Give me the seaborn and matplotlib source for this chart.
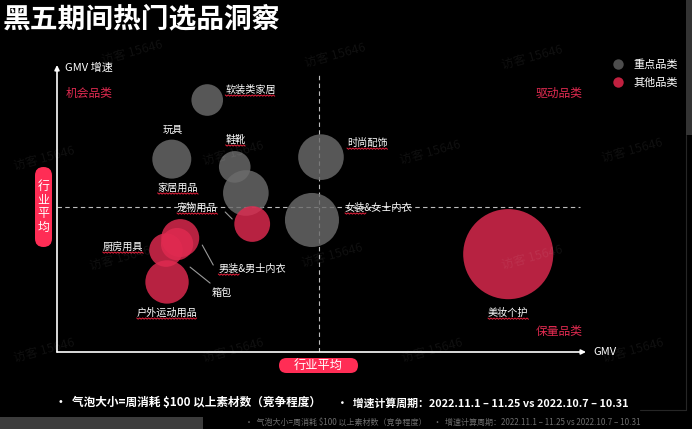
import numpy as np
import pandas as pd
import matplotlib.pyplot as plt
import seaborn as sns
from matplotlib.lines import Line2D
from matplotlib.patches import Rectangle, FancyBboxPatch
from matplotlib.transforms import IdentityTransform

# bubble data (GMV index / growth index, bubble = materials with spend > $100 per week)
categories = ['软装类家居', '玩具', '鞋靴', '时尚配饰', '家居用品', '女装&女士内衣',
              '宠物用品', '男装&男士内衣', '箱包', '厨房用具', '户外运动用品', '美妆个护']
groups = ['重点品类'] * 6 + ['其他品类'] * 6
gmv = [28.4, 21.7, 33.6, 49.9, 35.7, 48.2, 36.9, 23.3, 22.7, 20.6, 20.8, 85.3]
growth = [87.8, 67.2, 64.5, 67.9, 55.4, 46.0, 44.6, 39.7, 37.6, 35.5, 24.4, 34.1]
materials = [250, 380, 250, 520, 520, 730, 320, 360, 260, 280, 470, 2030]
avg_gmv = 49.5
avg_growth = 50.5

title = '黑五期间热门选品洞察'
notes = ['•  气泡大小=周消耗 $100 以上素材数（竞争程度）',
         '•  增速计算周期：2022.11.1 – 11.25 vs 2022.10.7 – 10.31']

df = pd.DataFrame({'category': categories, 'group': groups, 'gmv': gmv,
                   'growth': growth, 'materials': materials})

sns.set_theme(style='dark')
plt.rcParams['font.family'] = ['Noto Sans CJK SC', 'DejaVu Sans']

RED = '#e02a50'
PINK = '#ff2d55'
GRAY = '#6b6b6b'

W, H = 692, 429
fig = plt.figure(figsize=(W / 100, H / 100), dpi=100, facecolor='black')


def fx(p):
    return p / W


def fy(p):
    return 1 - p / H


ax = fig.add_axes([fx(57), fy(352), (586 - 57) / W, (352 - 65) / H])
ax.set_facecolor('black')

sns.scatterplot(data=df, x='gmv', y='growth', hue='group', size='materials',
                palette={'重点品类': GRAY, '其他品类': RED},
                sizes=(0, 2.0736 * 2030), size_norm=(0, 2030),
                alpha=0.82, linewidth=0, legend=False, ax=ax, zorder=3, clip_on=False)
ax.set_xlim(0, 100)
ax.set_ylim(0, 100)
ax.axis('off')

# average lines
ax.axhline(avg_growth, xmin=0, xmax=0.989, color='#bdbdbd', lw=0.8, ls=(0, (4, 3)), zorder=2)
ax.axvline(avg_gmv, ymin=0, ymax=0.965, color='#bdbdbd', lw=0.8, ls=(0, (4, 3)), zorder=2)

# axes arrows
arrow = dict(arrowstyle='-|>', color='white', lw=1.2, mutation_scale=7, shrinkA=0, shrinkB=0)
ax.annotate('', xy=(1, 0), xytext=(0, 0), xycoords='axes fraction', arrowprops=arrow,
            annotation_clip=False)
ax.annotate('', xy=(0, 1), xytext=(0, 0), xycoords='axes fraction', arrowprops=arrow,
            annotation_clip=False)

# bubble labels: offset in pixels from bubble centre, alignment, underlined share
label_layout = {
    '软装类家居': (18, 10, 'left', 1.0),
    '玩具': (1, 29, 'center', 0),
    '鞋靴': (1, 27, 'center', 1.0),
    '时尚配饰': (26, 14, 'left', 1.0),
    '家居用品': (-68, 5, 'center', 1.0),
    '女装&女士内衣': (33, 12, 'left', 0.31),
    '宠物用品': (-55, 16, 'center', 1.0),
    '男装&男士内衣': (38, -31, 'left', 0.31),
    '箱包': (35, -49, 'left', 0),
    '厨房用具': (-43, 3, 'center', 1.0),
    '户外运动用品': (0, -31, 'center', 1.0),
    '美妆个护': (0, -59, 'center', 1.0),
}
label_texts = []
for _, row in df.iterrows():
    dx, dy, ha, ul = label_layout[row['category']]
    t = ax.annotate(row['category'], xy=(row['gmv'], row['growth']), xytext=(dx, dy),
                    textcoords='offset pixels', ha=ha, va='center', color='white',
                    fontsize=7.3, zorder=5, annotation_clip=False)
    label_texts.append((t, ul))

# leader lines (pixel offsets from bubble centre)
leaders = {
    '宠物用品': ((-27, 12), (-20, 5)),
    '男装&男士内衣': ((33, -27), (22, -7)),
    '箱包': ((33, -39), (13, -23)),
}
for name, (a, b) in leaders.items():
    row = df[df['category'] == name].iloc[0]
    X, Y = ax.transData.transform((row['gmv'], row['growth']))
    fig.add_artist(Line2D([X + a[0], X + b[0]], [Y + a[1], Y + b[1]],
                          transform=IdentityTransform(), color='#9a9a9a', lw=0.8))

# title and axis texts
fig.text(fx(3), fy(19), title, color='white', fontsize=20, fontweight='bold', va='center')
fig.text(fx(65), fy(68), 'GMV 增速', color='white', fontsize=8, va='center')
fig.text(fx(593), fy(352), 'GMV', color='white', fontsize=8, va='center')

quad = dict(color=RED, fontsize=8.5, va='center')
fig.text(fx(66), fy(93), '机会品类', ha='left', **quad)
fig.text(fx(583), fy(93), '驱动品类', ha='right', **quad)
fig.text(fx(583), fy(332), '保量品类', ha='right', **quad)

# "行业平均" pills (pixel boxes)
for x0, top, w, h in [(35, 167, 17, 80), (279, 358, 79, 15)]:
    fig.add_artist(FancyBboxPatch((x0, H - top - h), w, h, transform=IdentityTransform(),
                                  boxstyle='round,pad=0,rounding_size=%g' % (min(w, h) / 2),
                                  fc=PINK, ec='none'))
fig.text(fx(43.5), fy(207), '行\n业\n平\n均', color='white', fontsize=8.6, ha='center',
         va='center', linespacing=1.05)
fig.text(fx(318.5), fy(365.5), '行业平均', color='white', fontsize=8.8, ha='center',
         va='center')

# legend
handles = [Line2D([0], [0], marker='o', ls='', markersize=7.5, markeredgewidth=0,
                  markerfacecolor=c) for c in ['#4d4d4d', '#c0203f']]
fig.legend(handles, ['重点品类', '其他品类'], loc='upper left',
           bbox_to_anchor=(fx(612), fy(59)), frameon=False, labelcolor='white',
           fontsize=8, handlelength=1.0, handletextpad=0.9, labelspacing=0.75,
           borderpad=0, borderaxespad=0)

# footer
fig.text(fx(55), fy(403), notes[0], color='white', fontsize=8.4, fontweight='bold', va='center')
fig.text(fx(337), fy(403), notes[1], color='white', fontsize=7.8, fontweight='bold', va='center')
fig.add_artist(Rectangle((0, 0), fx(203), 12 / H, transform=fig.transFigure,
                         fc='#3c3c3c', ec='none'))
fig.add_artist(Rectangle((fx(686), fy(135)), 6 / W, 135 / H, transform=fig.transFigure,
                         fc='#333333', ec='none'))
fig.add_artist(Line2D([fx(686), fx(686)], [fy(135), fy(410)], transform=fig.transFigure,
                      color='#262626', lw=0.8))
fig.add_artist(Line2D([fx(640), fx(686)], [fy(410), fy(410)], transform=fig.transFigure,
                      color='#262626', lw=0.8))
fig.text(fx(245), fy(422), notes[0] + '    ' + notes[1], color='#6e6e6e', fontsize=5.8,
         va='center')

# faint watermarks
marks = [(132, 52), (335, 55), (532, 57), (44, 158), (233, 153), (430, 152), (632, 150),
         (120, 258), (332, 255), (532, 257), (44, 350), (233, 350), (432, 350), (633, 350)]
for mx, my in marks:
    fig.text(fx(mx), fy(my), '访客 15646', color='white', alpha=0.065, fontsize=9,
             rotation=15, ha='center', va='center', zorder=10)

# red wavy underline under labels
fig.canvas.draw()
renderer = fig.canvas.get_renderer()
for t, ul in label_texts:
    if ul == 0:
        continue
    bb = t.get_window_extent(renderer)
    xs = np.arange(bb.x0, bb.x0 + bb.width * ul + 0.1, 1.5)
    ys = bb.y0 - 0.5 + np.where(np.arange(len(xs)) % 2 == 0, 0.6, -0.6)
    fig.add_artist(Line2D(xs, ys, transform=IdentityTransform(), color='#e8203c', lw=0.7))

fig.savefig('out.png', dpi=100, facecolor='black')
